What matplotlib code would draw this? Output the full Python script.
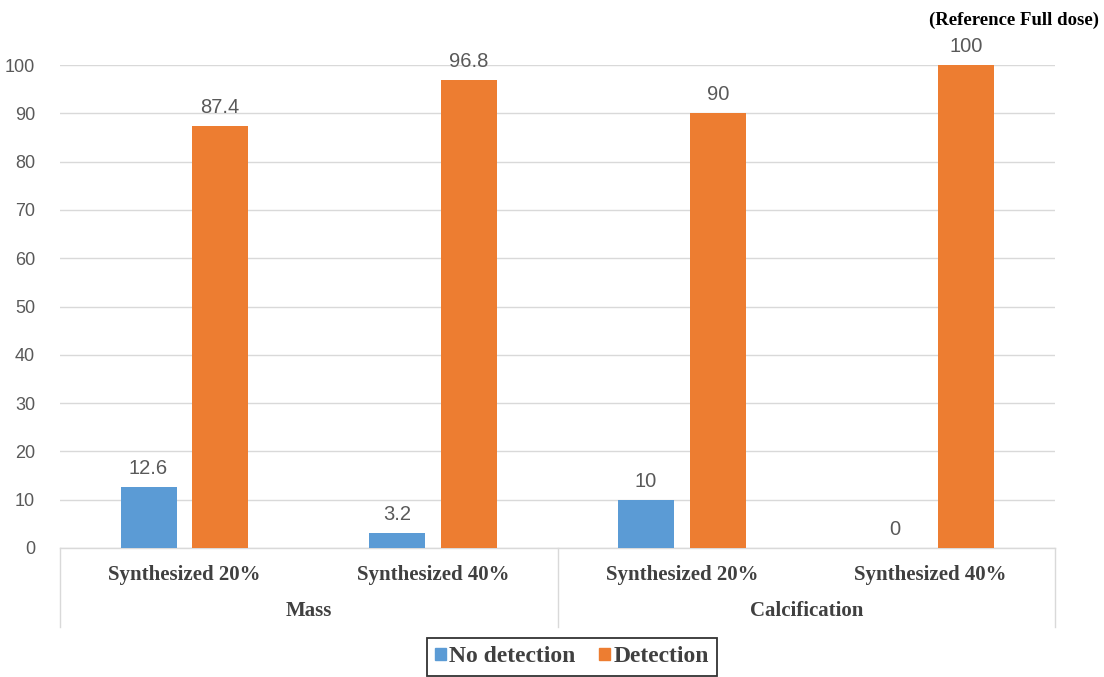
import matplotlib
matplotlib.use("Agg")
import matplotlib.pyplot as plt
from matplotlib.lines import Line2D
from matplotlib.patches import Patch
import numpy as np

groups = ["Mass", "Calcification"]
subcats = ["Synthesized 20%", "Synthesized 40%", "Synthesized 20%", "Synthesized 40%"]
no_detection = [12.6, 3.2, 10, 0]
detection = [87.4, 96.8, 90, 100]
yticks = [0, 10, 20, 30, 40, 50, 60, 70, 80, 90, 100]

BLUE = "#5B9BD5"
ORANGE = "#ED7D31"
GRID = "#D9D9D9"
LABEL = "#595959"
SANS = ["Liberation Sans", "DejaVu Sans"]
SERIF = ["Liberation Serif", "DejaVu Serif"]

W, H = 1104, 677
x0, x1, ytop, ybot = 60, 1055, 65, 548
fig = plt.figure(figsize=(W / 100, H / 100), dpi=100)
ax = fig.add_axes([x0 / W, 1 - ybot / H, (x1 - x0) / W, (ybot - ytop) / H])
ah = ybot - ytop

x = np.arange(len(subcats))
w = 0.225
off = 0.144
b1 = ax.bar(x - off, no_detection, w, color=BLUE, zorder=3)
b2 = ax.bar(x + off, detection, w, color=ORANGE, zorder=3)

for bars, vals in ((b1, no_detection), (b2, detection)):
    for r, v in zip(bars, vals):
        ax.annotate(f"{v:g}", (r.get_x() + r.get_width() / 2, v),
                    xytext=(0, 6.5), textcoords="offset points",
                    ha="center", va="bottom", fontsize=14.5, color=LABEL,
                    family=SANS)

ax.set_xlim(-0.5, len(subcats) - 0.5)
ax.set_ylim(0, 100)
ax.set_yticks(yticks)
ax.set_yticklabels([str(t) for t in yticks], family=SANS, fontsize=13, color=LABEL)
ax.tick_params(axis="y", length=0, pad=18)
ax.tick_params(axis="x", length=0, bottom=False, labelbottom=False)
ax.grid(axis="y", color=GRID, linewidth=1, zorder=0)
for s in ["top", "right", "left"]:
    ax.spines[s].set_visible(False)
ax.spines["bottom"].set_color(GRID)
ax.spines["bottom"].set_linewidth(1)

# Two-level category axis
trans = ax.get_xaxis_transform()
for xi, lab in zip(x, subcats):
    ax.text(xi, -27 / ah, lab, transform=trans, ha="center", va="center",
            fontsize=15, fontweight="bold", family=SERIF, color="#404040")
for gi, g in enumerate(groups):
    ax.text(gi * 2 + 0.5, -63 / ah, g, transform=trans, ha="center", va="center",
            fontsize=15, fontweight="bold", family=SERIF, color="#404040")
for sx in (-0.5, 1.5, 3.5):
    ax.add_line(Line2D([sx, sx], [0, -79 / ah], transform=trans, color=GRID,
                       linewidth=1, clip_on=False))

fig.text(1099 / W, 1 - 20 / H, "(Reference Full dose)", ha="right", va="center",
         fontsize=13.5, fontweight="bold", family=SERIF, color="black")

handles = [Patch(color=BLUE, label="No detection"), Patch(color=ORANGE, label="Detection")]
leg = fig.legend(handles=handles, loc="upper center", bbox_to_anchor=(572 / W, 1 - 638 / H),
                 ncol=2, frameon=True, fancybox=False, handlelength=0.45, handleheight=0.45,
                 handletextpad=0.15, columnspacing=1.0, borderpad=0.35, borderaxespad=0,
                 prop={"family": SERIF, "weight": "bold", "size": 17})
leg.get_frame().set_edgecolor("black")
leg.get_frame().set_linewidth(1.3)
for t in leg.get_texts():
    t.set_color("#404040")

fig.savefig("out.png", dpi=100)
